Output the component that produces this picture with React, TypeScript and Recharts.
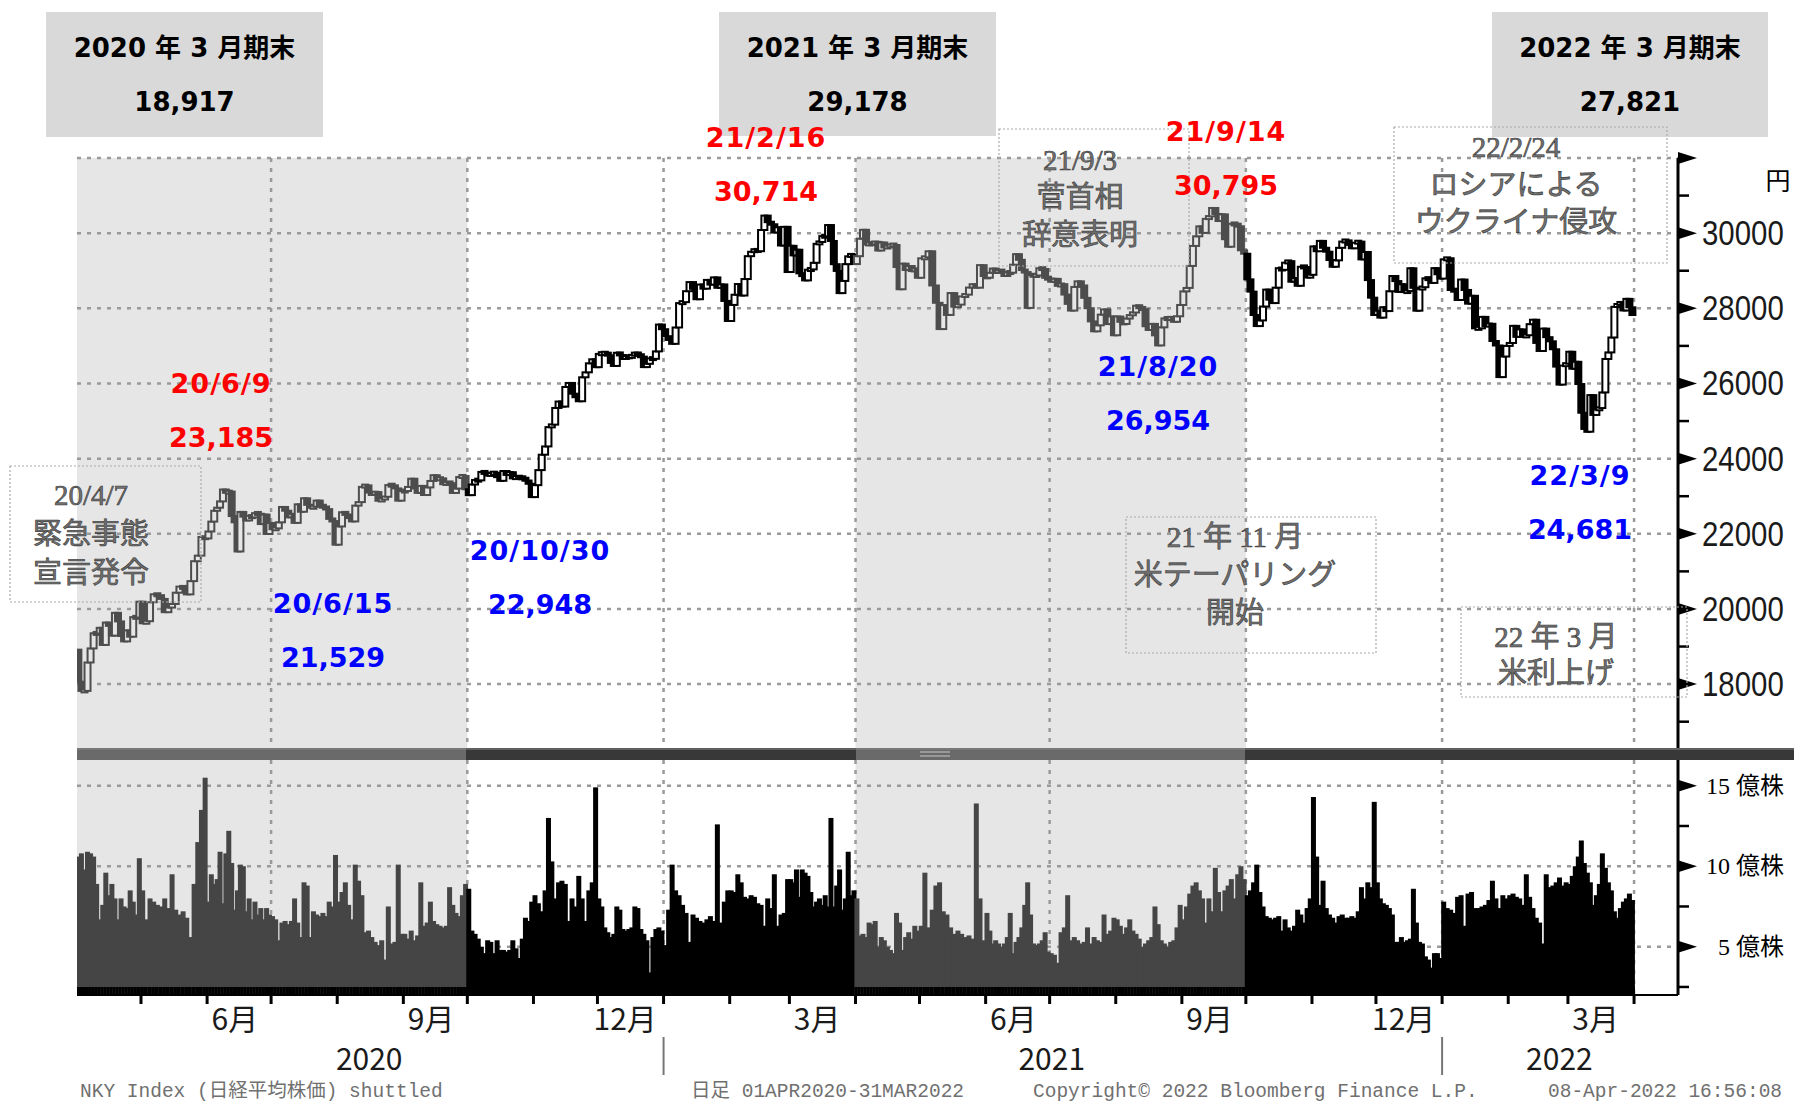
import React from 'react';
import { ComposedChart, Bar, XAxis, YAxis, CartesianGrid, ReferenceArea } from 'recharts';

const DAY_MS = 86400000;
const dayNum = (s: string) => {
  const [y, m, d] = s.split('-').map(Number);
  return Date.UTC(y, m - 1, d) / DAY_MS;
};

// ---------- data ----------
const PREV_CLOSE = 18917; // 2020/3 end close
const FY_MONTHS_2020 = ['2020-04', '2020-05', '2020-06', '2020-07', '2020-08', '2020-09', '2020-10', '2020-11', '2020-12', '2021-01', '2021-02', '2021-03'];
const FY_MONTHS_2021 = ['2021-04', '2021-05', '2021-06', '2021-07', '2021-08', '2021-09', '2021-10', '2021-11', '2021-12', '2022-01', '2022-02', '2022-03'];

const CLOSES_FY2020 = [
  [18065, 17819, 17820, 18576, 18950, 19353, 19345, 19498, 19043, 19638, 19550, 19290, 19897, 19669, 19281, 19137, 19429, 19262, 19783, 19771, 20193],
  [19619, 19674, 20179, 20390, 20366, 20267, 19914, 20037, 20133, 20433, 20595, 20552, 20388, 20741, 21271, 21419, 21916, 21877],
  [22062, 22325, 22613, 22695, 22863, 23178, 23091, 23124, 22472, 22305, 21530, 22582, 22455, 22355, 22478, 22437, 22549, 22534, 22259, 22512, 21995, 22288],
  [22122, 22145, 22306, 22714, 22614, 22438, 22529, 22291, 22784, 22587, 22945, 22770, 22696, 22717, 22884, 22751, 22715, 22657, 22397, 22339, 21710],
  [22195, 22573, 22514, 22418, 22329, 22750, 22843, 23249, 23289, 23096, 23051, 23110, 22880, 22920, 22985, 23296, 23290, 23208, 22882, 23139],
  [23138, 23247, 23465, 23205, 23089, 23274, 23032, 23235, 23406, 23559, 23454, 23475, 23319, 23360, 23346, 23087, 23204, 23511, 23539, 23185],
  [23029, 23312, 23433, 23422, 23647, 23619, 23558, 23601, 23626, 23507, 23410, 23671, 23567, 23639, 23474, 23516, 23494, 23485, 23418, 23331, 22977],
  [23295, 23695, 24105, 24325, 24839, 24905, 25349, 25520, 25385, 25907, 26014, 25728, 25634, 25527, 26165, 26297, 26537, 26644, 26434],
  [26787, 26800, 26809, 26751, 26547, 26467, 26817, 26756, 26652, 26732, 26687, 26757, 26806, 26763, 26714, 26436, 26524, 26668, 26656, 26854, 27568, 27444],
  [27258, 27158, 27055, 27490, 28139, 28164, 28456, 28698, 28519, 28242, 28633, 28523, 28756, 28631, 28822, 28546, 28635, 28197, 27663],
  [28091, 28362, 28646, 28341, 28779, 29388, 29505, 29562, 29520, 30084, 30467, 30292, 30236, 30017, 30156, 29671, 30168, 28966],
  [29663, 29408, 29559, 28930, 28864, 28743, 29028, 29036, 29212, 29717, 29766, 29921, 29914, 30216, 29792, 29174, 28995, 28405, 28729, 29176, 29384, 29432, 29178],
];
const CLOSES_FY2021 = [
  [29388, 29854, 30089, 29696, 29730, 29709, 29768, 29538, 29751, 29620, 29642, 29683, 29685, 29100, 28508, 29188, 29020, 29126, 28991, 29053, 28813],
  [29331, 29357, 29518, 28608, 28147, 27448, 28084, 27824, 28406, 28044, 28098, 28317, 28364, 28553, 28642, 28549, 29149, 28860],
  [28814, 28946, 29058, 28941, 29019, 28963, 28860, 28958, 28948, 29161, 29441, 29291, 29018, 28964, 28011, 28884, 28874, 28875, 29066, 29048, 28812, 28792],
  [28707, 28783, 28598, 28643, 28366, 28118, 27940, 28569, 28718, 28608, 28279, 28003, 27652, 27388, 27548, 27833, 27970, 27581, 27782, 27283],
  [27781, 27641, 27584, 27728, 27820, 27888, 28070, 28015, 27977, 27523, 27424, 27585, 27281, 27013, 27494, 27732, 27724, 27742, 27641, 27789, 28089],
  [28451, 28543, 29128, 29660, 29916, 30181, 30008, 30381, 30447, 30670, 30511, 30323, 30500, 29839, 29639, 30249, 30240, 30183, 29544, 29452],
  [28771, 28444, 27822, 27528, 27678, 28048, 28498, 28230, 28140, 28550, 29068, 29025, 29215, 29255, 28708, 28804, 28600, 29106, 29098, 28820, 28892],
  [29647, 29520, 29794, 29611, 29507, 29285, 29106, 29277, 29610, 29776, 29808, 29688, 29598, 29745, 29774, 29302, 29499, 28751, 28283, 27822],
  [27935, 27753, 28029, 27927, 28455, 28860, 28725, 28437, 28640, 28432, 28459, 29066, 28545, 27937, 28517, 28562, 28798, 28782, 28676, 29069, 28906, 28791],
  [29301, 29332, 28487, 28478, 28222, 28765, 28489, 28124, 28333, 27467, 27467, 27772, 27522, 27588, 27131, 27011, 26170, 26717, 27001],
  [27078, 27533, 27241, 27439, 27248, 27284, 27579, 27696, 27079, 26865, 27460, 27232, 27122, 26910, 26449, 25970, 26476, 26526],
  [26844, 26393, 26577, 25985, 25221, 24790, 24717, 25690, 25163, 25307, 25346, 25762, 26652, 26827, 27224, 28040, 28110, 28149, 27943, 28252, 28027, 27821],
];

// volume, 億株
const VOLUMES_FY2020 = [
  [10.6, 10.8, 9.8, 10.9, 10.8, 10.6, 8.9, 6.7, 7.6, 9.6, 8.2, 8.9, 8.0, 6.7, 8.0, 7.5, 7.4, 8.5, 7.8, 7.0, 10.5],
  [8.5, 6.7, 8.0, 7.8, 7.6, 7.5, 8.0, 7.4, 9.5, 7.3, 7.0, 7.2, 6.8, 5.6, 8.9, 11.5, 13.5, 15.5],
  [7.8, 9.5, 8.9, 9.2, 10.9, 7.7, 10.8, 12.2, 10.2, 7.3, 8.5, 10.1, 10.0, 7.2, 8.0, 6.7, 7.8, 7.0, 7.4, 6.7, 7.4, 7.0],
  [6.9, 6.7, 5.4, 6.5, 6.6, 6.4, 6.6, 8.0, 6.5, 5.6, 9.0, 8.8, 5.6, 7.2, 7.0, 6.9, 7.1, 6.9, 7.8, 7.5, 10.7],
  [7.8, 8.4, 9.0, 7.6, 6.7, 10.1, 9.1, 8.2, 5.9, 6.0, 5.6, 5.3, 5.1, 5.4, 4.2, 7.5, 5.2, 5.3, 10.1, 5.8],
  [5.8, 5.5, 6.0, 5.4, 5.7, 9.0, 6.3, 6.5, 7.8, 6.6, 6.4, 6.3, 6.2, 6.3, 8.7, 7.6, 7.1, 6.9, 8.2, 8.9],
  [8.6, 6.0, 5.8, 5.5, 5.0, 4.6, 5.4, 5.3, 4.6, 5.4, 4.8, 4.8, 4.7, 4.8, 5.4, 4.9, 4.3, 5.5, 6.8, 6.6, 7.8],
  [8.2, 7.7, 7.2, 8.5, 13.0, 10.3, 8.0, 9.0, 9.1, 8.9, 6.6, 8.0, 7.5, 9.4, 8.0, 6.6, 8.5, 9.0, 14.9],
  [8.0, 7.5, 6.2, 5.9, 5.6, 5.8, 7.5, 7.3, 6.1, 6.0, 6.1, 6.2, 7.5, 7.4, 6.1, 5.8, 5.4, 3.4, 5.6, 6.1, 6.2, 6.0],
  [5.1, 7.3, 10.1, 8.5, 8.2, 7.6, 7.1, 5.3, 7.0, 6.8, 6.6, 6.5, 6.7, 6.9, 6.6, 12.6, 6.5, 7.8, 8.5],
  [8.5, 8.4, 9.5, 9.0, 8.1, 8.0, 8.2, 8.1, 7.7, 7.6, 6.3, 8.0, 7.4, 9.5, 6.3, 7.0, 7.1, 9.2],
  [9.2, 9.0, 9.8, 8.1, 9.8, 9.6, 9.4, 8.4, 7.5, 7.8, 8.0, 7.6, 8.2, 7.5, 13.0, 7.5, 8.8, 9.8, 7.3, 8.0, 10.9, 8.2, 8.5],
];
const VOLUMES_FY2021 = [
  [8.0, 5.7, 5.8, 5.6, 6.5, 6.4, 6.6, 5.0, 5.6, 5.4, 5.0, 4.8, 4.6, 7.1, 6.5, 4.8, 5.6, 5.9, 5.5, 6.3, 6.0],
  [6.3, 9.6, 6.2, 7.3, 8.8, 9.0, 7.2, 7.0, 6.2, 5.8, 6.0, 5.8, 5.6, 5.7, 5.5, 13.9, 8.0, 5.4],
  [7.1, 6.0, 5.2, 5.4, 5.2, 5.0, 5.2, 5.6, 7.1, 4.6, 5.3, 5.6, 6.2, 7.6, 9.0, 7.0, 5.2, 5.1, 5.2, 5.4, 5.9, 4.7],
  [4.6, 4.5, 4.0, 5.9, 6.2, 8.2, 5.4, 5.6, 5.4, 5.2, 5.3, 6.2, 5.2, 5.6, 5.4, 5.3, 7.0, 5.8, 6.0, 6.8],
  [6.7, 6.3, 5.8, 6.2, 6.7, 6.0, 5.8, 5.5, 5.0, 5.2, 5.4, 5.6, 7.5, 6.4, 5.4, 5.2, 5.0, 5.3, 5.4, 6.2, 7.6],
  [6.7, 7.5, 8.3, 8.8, 9.0, 8.5, 8.0, 6.5, 8.0, 7.2, 9.9, 8.4, 7.2, 8.5, 8.8, 9.2, 8.0, 9.5, 10.0, 9.2],
  [8.2, 8.5, 9.0, 10.1, 8.4, 7.5, 6.9, 6.8, 6.7, 6.8, 6.9, 6.0, 6.7, 6.2, 6.0, 6.3, 7.3, 7.0, 6.5, 7.4, 8.0],
  [14.3, 10.6, 7.6, 9.1, 7.4, 7.0, 6.8, 6.5, 6.9, 7.0, 6.8, 6.8, 6.9, 6.8, 7.2, 8.7, 8.0, 9.0, 8.7, 14.0],
  [9.0, 8.0, 7.7, 7.6, 7.4, 7.0, 5.3, 5.3, 5.6, 5.3, 5.4, 5.5, 8.6, 6.5, 5.3, 5.2, 4.4, 4.2, 3.7, 4.6, 4.6, 4.3],
  [7.8, 7.4, 7.3, 7.1, 8.1, 8.2, 6.3, 8.3, 8.4, 7.4, 7.4, 7.5, 7.6, 7.9, 9.1, 8.0, 7.4, 8.2, 8.0],
  [8.2, 8.3, 8.1, 8.0, 7.6, 9.5, 8.1, 7.4, 6.8, 6.5, 5.2, 9.5, 8.7, 8.8, 9.0, 9.3, 8.8, 9.0],
  [8.9, 9.4, 10.0, 10.6, 11.6, 10.2, 9.6, 9.0, 7.6, 8.2, 8.9, 10.8, 9.9, 9.0, 8.5, 7.2, 6.8, 7.4, 7.8, 8.0, 8.3, 7.9],
];

// ---------- axes / ticks ----------
const X_START = dayNum('2020-04-01');
const X_END = X_START + 750.6; // axis runs a little past the last session, up to the price scale
const QUARTER_LINES = ['2020-07-01', '2020-10-01', '2021-01-01', '2021-04-01', '2021-07-01', '2021-10-01', '2022-01-01', '2022-04-01'].map(dayNum);
const SHADED_HALVES = [['2020-04-01', '2020-10-01'], ['2021-04-01', '2021-10-01']];
const PRICE_GRID = [18000, 20000, 22000, 24000, 26000, 28000, 30000, 32000];
const PRICE_TICKS = [17000, 18000, 19000, 20000, 21000, 22000, 23000, 24000, 25000, 26000, 27000, 28000, 29000, 30000, 31000, 32000];
const VOLUME_GRID = [5, 10, 15];
const VOLUME_TICKS = [2.5, 5, 7.5, 10, 12.5, 15];
const MONTH_LABELS: [string, string][] = [
  ['2020-06-14', '6月'], ['2020-09-14', '9月'], ['2020-12-14', '12月'], ['2021-03-14', '3月'],
  ['2021-06-14', '6月'], ['2021-09-14', '9月'], ['2021-12-14', '12月'], ['2022-03-14', '3月'],
];
const YEAR_LABELS: [string, string][] = [['2020-08-16', '2020'], ['2021-07-02', '2021'], ['2022-02-25', '2022']];
const YEAR_SEPARATORS = ['2021-01-01', '2022-01-01'];

// ---------- build rows ----------
const MONTHS = [...FY_MONTHS_2020, ...FY_MONTHS_2021];
const CLOSES = [...CLOSES_FY2020, ...CLOSES_FY2021];
const VOLUMES = [...VOLUMES_FY2020, ...VOLUMES_FY2021];

type Row = { t: number; open: number; close: number; body: [number, number]; up: boolean; vol: number; shaded: boolean };
const rows: Row[] = [];
{
  let prev = PREV_CLOSE;
  MONTHS.forEach((mk, mi) => {
    const [y, m] = mk.split('-').map(Number);
    const start = Date.UTC(y, m - 1, 1) / DAY_MS;
    const end = Date.UTC(y, m, 1) / DAY_MS;
    const cl = CLOSES[mi];
    const shaded = m >= 4 && m <= 9;
    cl.forEach((c, i) => {
      const t = start + ((i + 0.5) * (end - start)) / cl.length;
      rows.push({ t, open: prev, close: c, body: [Math.min(prev, c), Math.max(prev, c)], up: c >= prev, vol: VOLUMES[mi][i], shaded });
      prev = c;
    });
  });
}

type TickInfo = { month?: boolean; sep?: boolean; label?: string; year?: string };
const TICK_INFO = new Map<number, TickInfo>();
const addInfo = (v: number, info: TickInfo) => TICK_INFO.set(v, { ...(TICK_INFO.get(v) || {}), ...info });
MONTHS.slice(1).forEach((mk) => addInfo(dayNum(mk + '-01'), { month: true }));
addInfo(dayNum('2022-04-01'), { month: true });
YEAR_SEPARATORS.forEach((d) => addInfo(dayNum(d), { sep: true }));
MONTH_LABELS.forEach(([d, s]) => addInfo(dayNum(d), { label: s }));
YEAR_LABELS.forEach(([d, s]) => addInfo(dayNum(d), { year: s }));
const X_TICKS = Array.from(TICK_INFO.keys()).sort((a, b) => a - b);

// ---------- renderers ----------
const SHADE = '#e6e6e6';
const Candle = (p: any) => {
  const { x, y, width, height, payload } = p;
  if (x == null || y == null) return null;
  const cx = x + width / 2;
  const w = 6;
  const h = Math.max(height || 0, 3);
  const col = payload.shaded ? '#4d4d4d' : '#000';
  const fill = payload.up ? (payload.shaded ? SHADE : '#fff') : col;
  return <rect x={cx - w / 2} y={y - (h - (height || 0)) / 2} width={w} height={h} fill={fill} stroke={col} strokeWidth={2} />;
};

const VolBar = (p: any) => {
  const { x, y, width, height, payload } = p;
  if (x == null || y == null) return null;
  const cx = x + width / 2;
  const w = 5;
  const col = payload.shaded ? '#454545' : '#000';
  return (
    <g>
      <rect x={cx - w / 2} y={y} width={w} height={height} fill={col} />
      <rect x={cx - w / 2} y={y + height - 8} width={w} height={8} fill="#000" />
    </g>
  );
};

const PriceTick = (p: any) => {
  const { x, y, payload } = p;
  const v = payload.value;
  if (v % 2000 === 0) {
    return (
      <g>
        <polygon points={`${x},${y - 6} ${x + 19},${y} ${x},${y + 6}`} fill="#000" />
        {v < 32000 && (
          <text transform={`translate(${x + 24},${y}) scale(0.84,1)`} dominantBaseline="central" fontSize={35}
            fontFamily="'Liberation Sans', Arial, sans-serif" fill="#1a1a1a">{v}</text>
        )}
      </g>
    );
  }
  return <line x1={x} x2={x + 11} y1={y} y2={y} stroke="#000" strokeWidth={2.5} />;
};

const VolTick = (p: any) => {
  const { x, y, payload } = p;
  const v = payload.value;
  if (v % 5 === 0) {
    return (
      <g>
        <polygon points={`${x},${y - 6} ${x + 19},${y} ${x},${y + 6}`} fill="#000" />
        <text x={x + 106} y={y} textAnchor="end" dominantBaseline="central" fontSize={24}
          fontFamily="'Liberation Serif', 'Noto Sans CJK JP', serif" fill="#000">{`${v} 億株`}</text>
      </g>
    );
  }
  return <line x1={x} x2={x + 11} y1={y} y2={y} stroke="#000" strokeWidth={2.5} />;
};

const XTick = (p: any) => {
  const { x, y, payload } = p;
  const info = TICK_INFO.get(payload.value) || {};
  const font = "'Noto Sans CJK JP', 'Noto Sans', sans-serif";
  return (
    <g>
      {info.month && <line x1={x} x2={x} y1={y + 1} y2={y + 9} stroke="#000" strokeWidth={3} />}
      {info.sep && <line x1={x} x2={x} y1={y + 42} y2={y + 80} stroke="#777" strokeWidth={2} />}
      {info.label && (
        <text x={x} y={y + 22} textAnchor="middle" dominantBaseline="central" fontSize={30} fontFamily={font} fill="#1a1a1a">{info.label}</text>
      )}
      {info.year && (
        <text x={x} y={y + 62} textAnchor="middle" dominantBaseline="central" fontSize={30} fontFamily={font} fill="#1a1a1a">{info.year}</text>
      )}
    </g>
  );
};

// ---------- overlay text ----------
const BOLD_FONT = "'DejaVu Sans', 'Noto Sans CJK JP', sans-serif";
const NOTE_FONT = "'Liberation Serif', 'Noto Sans CJK JP', serif";
const MONO_FONT = "'Liberation Mono', 'DejaVu Sans Mono', 'Noto Sans CJK JP', monospace";

const HEAD_BOXES = [
  { x: 46, y: 12, w: 277, h: 125, title: '2020 年 3 月期末', value: '18,917' },
  { x: 719, y: 12, w: 277, h: 124, title: '2021 年 3 月期末', value: '29,178' },
  { x: 1492, y: 12, w: 276, h: 125, title: '2022 年 3 月期末', value: '27,821' },
];
const EXTREMES = [
  { x: 221, y: 383, date: '20/6/9', value: '23,185', color: '#ff0000' },
  { x: 333, y: 603, date: '20/6/15', value: '21,529', color: '#0000ff' },
  { x: 540, y: 550, date: '20/10/30', value: '22,948', color: '#0000ff' },
  { x: 766, y: 137, date: '21/2/16', value: '30,714', color: '#ff0000' },
  { x: 1226, y: 131, date: '21/9/14', value: '30,795', color: '#ff0000' },
  { x: 1158, y: 366, date: '21/8/20', value: '26,954', color: '#0000ff' },
  { x: 1580, y: 475, date: '22/3/9', value: '24,681', color: '#0000ff' },
];
const NOTES = [
  { box: [10, 466, 191, 136], cx: 91, lines: [['20/4/7', 495], ['緊急事態', 534], ['宣言発令', 573]] },
  { box: [999, 129, 190, 137], cx: 1080, lines: [['21/9/3', 160], ['菅首相', 197], ['辞意表明', 235]] },
  { box: [1394, 127, 273, 136], cx: 1516, lines: [['22/2/24', 147], ['ロシアによる', 185], ['ウクライナ侵攻', 222]] },
  { box: [1126, 517, 250, 136], cx: 1235, lines: [['21 年 11 月', 537], ['米テーパリング', 575], ['開始', 613]] },
  { box: [1461, 607, 226, 90], cx: 1556, lines: [['22 年 3 月', 637], ['米利上げ', 673]] },
];
const FOOTER = [
  { x: 80, s: 'NKY Index (日経平均株価) shuttled' },
  { x: 691, s: '日足 01APR2020-31MAR2022' },
  { x: 1033, s: 'Copyright© 2022 Bloomberg Finance L.P.' },
  { x: 1548, s: '08-Apr-2022 16:56:08' },
];

const gridStyle = { stroke: '#9a9a9a', strokeDasharray: '4 6', strokeWidth: 2.5 };

export default function App() {
  return (
    <div style={{ position: 'absolute', left: 0, top: 0, width: 1794, height: 1104, background: '#fff', overflow: 'hidden' }}>
      {/* price panel */}
      <div style={{ position: 'absolute', left: 0, top: 0 }}>
        <ComposedChart width={1794} height={748} data={rows} margin={{ top: 158, right: 0, bottom: 0, left: 77 }}>
          {SHADED_HALVES.map(([a, b]) => (
            <ReferenceArea key={a} x1={dayNum(a)} x2={dayNum(b)} fill={SHADE} fillOpacity={1} stroke="none" zIndex={-200} />
          ))}
          <CartesianGrid horizontalValues={PRICE_GRID} verticalValues={QUARTER_LINES} {...gridStyle} />
          <XAxis dataKey="t" type="number" domain={[X_START, X_END]} hide allowDataOverflow />
          <YAxis orientation="right" domain={[16300, 32000]} ticks={PRICE_TICKS} interval={0} tick={PriceTick}
            tickSize={0} tickMargin={0} tickLine={false} axisLine={{ stroke: '#000', strokeWidth: 3 }} width={116} allowDataOverflow />
          <Bar dataKey="body" shape={Candle} isAnimationActive={false} barSize={5} />
        </ComposedChart>
      </div>

      {/* volume panel */}
      <div style={{ position: 'absolute', left: 0, top: 760 }}>
        <ComposedChart width={1794} height={344} data={rows} margin={{ top: 0, right: 0, bottom: 0, left: 77 }}>
          {SHADED_HALVES.map(([a, b]) => (
            <ReferenceArea key={a} x1={dayNum(a)} x2={dayNum(b)} fill={SHADE} fillOpacity={1} stroke="none" zIndex={-200} />
          ))}
          <CartesianGrid horizontalValues={VOLUME_GRID} verticalValues={QUARTER_LINES} {...gridStyle} />
          <XAxis dataKey="t" type="number" domain={[X_START, X_END]} ticks={X_TICKS} interval={0} tick={XTick}
            tickSize={0} tickMargin={0} tickLine={false} axisLine={{ stroke: '#000', strokeWidth: 2 }} height={109} allowDataOverflow />
          <YAxis orientation="right" domain={[2, 16.6]} ticks={VOLUME_TICKS} interval={0} tick={VolTick}
            tickSize={0} tickMargin={0} tickLine={false} axisLine={{ stroke: '#000', strokeWidth: 3 }} width={116} allowDataOverflow />
          <Bar dataKey="vol" shape={VolBar} isAnimationActive={false} barSize={4} />
        </ComposedChart>
      </div>

      {/* decorations and annotations */}
      <svg width={1794} height={1104} style={{ position: 'absolute', left: 0, top: 0, pointerEvents: 'none' }}>
        {/* panel separator */}
        <rect x={77} y={748} width={1717} height={12} fill="#383838" />
        <rect x={77} y={748} width={389} height={12} fill="#6a6a6a" />
        <rect x={856} y={748} width={389} height={12} fill="#6a6a6a" />
        <line x1={77} x2={1794} y1={749} y2={749} stroke="#888" strokeWidth={1} />
        <line x1={920} x2={950} y1={752} y2={752} stroke="#aaa" strokeWidth={1.5} />
        <line x1={920} x2={950} y1={756} y2={756} stroke="#aaa" strokeWidth={1.5} />

        <text x={1778} y={181} textAnchor="middle" dominantBaseline="central" fontSize={25} fontFamily={NOTE_FONT} fill="#000">円</text>

        {HEAD_BOXES.map((b) => (
          <g key={b.title}>
            <rect x={b.x} y={b.y} width={b.w} height={b.h} fill="#d9d9d9" />
            <text x={b.x + b.w / 2} y={48} textAnchor="middle" dominantBaseline="central" fontSize={26} fontWeight="bold" fontFamily={BOLD_FONT} fill="#000">{b.title}</text>
            <text x={b.x + b.w / 2} y={102} textAnchor="middle" dominantBaseline="central" fontSize={26} fontWeight="bold" fontFamily={BOLD_FONT} fill="#000">{b.value}</text>
          </g>
        ))}

        {NOTES.map((n, i) => (
          <g key={i}>
            <rect x={n.box[0]} y={n.box[1]} width={n.box[2]} height={n.box[3]} fill="none" stroke="#aaa" strokeWidth={1.2} strokeDasharray="2 2" />
            {n.lines.map(([s, y]) => (
              <text key={s as string} x={n.cx} y={y as number} textAnchor="middle" dominantBaseline="central" fontSize={29}
                fontFamily={NOTE_FONT} fill="#707070" stroke="#3a3a3a" strokeWidth={0.6}>{s}</text>
            ))}
          </g>
        ))}

        {EXTREMES.map((e) => (
          <g key={e.date}>
            <text x={e.x} y={e.y} textAnchor="middle" dominantBaseline="central" fontSize={27} fontWeight="bold" fontFamily={BOLD_FONT} fill={e.color} letterSpacing={1}>{e.date}</text>
            <text x={e.x} y={e.y + 54} textAnchor="middle" dominantBaseline="central" fontSize={27} fontWeight="bold" fontFamily={BOLD_FONT} fill={e.color}>{e.value}</text>
          </g>
        ))}

        {FOOTER.map((f) => (
          <text key={f.s} x={f.x} y={1097} fontSize={19.5} fontFamily={MONO_FONT} fill="#707070">{f.s}</text>
        ))}
      </svg>
    </div>
  );
}
